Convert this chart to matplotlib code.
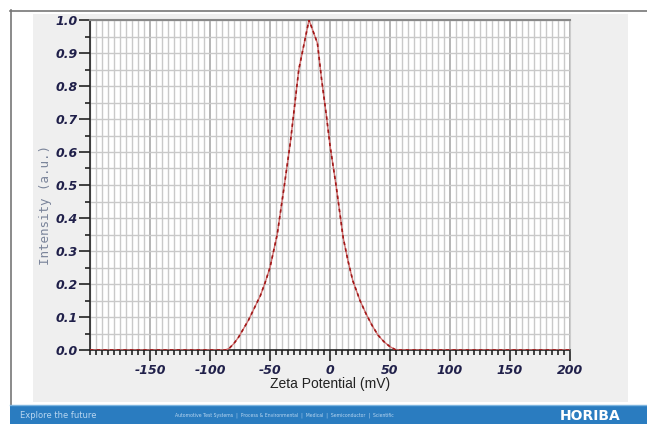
import numpy as np
import matplotlib.pyplot as plt
from matplotlib.patches import Rectangle
from matplotlib.lines import Line2D
from matplotlib.ticker import MultipleLocator

# zeta potential distribution
zeta = [-200, -87, -84, -80, -76, -72, -68, -64, -58, -54, -50, -44, -38, -33, -26,
        -17.5, -10.5, -7, -3, 0, 5, 11, 15, 19, 25, 30, 35, 40, 45, 50, 55, 200]
intensity = [0.0, 0.0, 0.005, 0.02, 0.04, 0.065, 0.09, 0.12, 0.165, 0.205, 0.25, 0.35,
             0.50, 0.63, 0.85, 1.0, 0.93, 0.82, 0.71, 0.62, 0.50, 0.34, 0.27, 0.21,
             0.15, 0.11, 0.075, 0.045, 0.025, 0.01, 0.0, 0.0]

x_ticks = [-150, -100, -50, 0, 50, 100, 150, 200]
y_ticks = [0.0, 0.1, 0.2, 0.3, 0.4, 0.5, 0.6, 0.7, 0.8, 0.9, 1.0]

W, H = 647, 424
fig = plt.figure(figsize=(W / 100, H / 100), dpi=100)
fig.patch.set_facecolor('white')

def px(x0, y0, w, h):
    # pixel box (top-left origin) -> figure fraction
    return [x0 / W, 1 - (y0 + h) / H, w / W, h / H]

# slide frame, grey panel, blue footer
fig.add_artist(Line2D([10 / W, 1], [1 - 10.5 / H] * 2, color='#777777', lw=1.2))
fig.add_artist(Line2D([10.5 / W] * 2, [1 - 10 / H, 1 - 405 / H], color='#777777', lw=1.2))
fig.add_artist(Rectangle((33 / W, 1 - 402 / H), 595 / W, 388 / H,
                         transform=fig.transFigure, color='#efefef', lw=0, zorder=0))
fig.add_artist(Rectangle((10 / W, 0), 637 / W, 19 / H,
                         transform=fig.transFigure, color='#2a7cc0', lw=0, zorder=1))
fig.add_artist(Line2D([10 / W, 1], [19.5 / H] * 2, color='#7fb6e0', lw=1))
fig.text(20 / W, 9 / H, 'Explore the future', color='#b8d6f0', fontsize=6,
         va='center', ha='left')
fig.text(175 / W, 9 / H,
         'Automotive Test Systems  |  Process & Environmental  |  Medical  |  Semiconductor  |  Scientific',
         color='#b8d6f0', fontsize=3.3, va='center', ha='left')
fig.text(560 / W, 8.5 / H, 'HORIBA', color='white', fontsize=10, fontweight='bold',
         va='center', ha='left', family='DejaVu Sans')

ax = fig.add_axes(px(90, 20, 480, 330))
ax.set_facecolor('white')
ax.set_xlim(-200, 200)
ax.set_ylim(0, 1.0)

ax.xaxis.set_major_locator(MultipleLocator(50))
ax.xaxis.set_minor_locator(MultipleLocator(5))
ax.yaxis.set_major_locator(MultipleLocator(0.1))
ax.yaxis.set_minor_locator(MultipleLocator(0.05))

ax.grid(which='minor', color='#c9c9c9', lw=1.0)
ax.grid(which='major', axis='x', color='#a8a8a8', lw=1.2)
ax.grid(which='major', axis='y', color='#c9c9c9', lw=1.0)
ax.set_axisbelow(True)

ax.plot(zeta, intensity, color='#d07070', lw=1.0, zorder=3)
ax.plot(zeta, intensity, color='#a01818', lw=1.2, ls=(0, (2, 2)), zorder=4)

ax.set_xticks(x_ticks)
ax.set_xticklabels([str(v) for v in x_ticks])
ax.set_yticks(y_ticks)
ax.set_yticklabels(['%.1f' % v for v in y_ticks])

tick_font = dict(fontsize=9, fontweight='bold', fontstyle='italic', color='#20204a')
for lab in ax.get_xticklabels() + ax.get_yticklabels():
    lab.set(**tick_font)

ax.tick_params(axis='both', which='major', length=8, width=1.2, color='#222222', direction='out')
ax.tick_params(axis='both', which='minor', length=3.5, width=1.2, color='#222222', direction='out')
ax.tick_params(axis='x', pad=2)
ax.tick_params(axis='y', pad=1)

for side in ['left', 'bottom']:
    ax.spines[side].set_color('#222222')
    ax.spines[side].set_linewidth(1.2)
ax.spines['top'].set_color('#888888')
ax.spines['top'].set_linewidth(1.5)
ax.spines['right'].set_color('#cccccc')

fig.text(45 / W, 1 - 205 / H, 'Intensity (a.u.)', rotation=90, ha='center', va='center',
         family='DejaVu Sans Mono', fontsize=9, color='#7a849a')
fig.text(330 / W, 1 - 384 / H, 'Zeta Potential (mV)', ha='center', va='center',
         family='Liberation Sans', fontsize=10, color='#222222')

fig.savefig('out.png', dpi=100)
